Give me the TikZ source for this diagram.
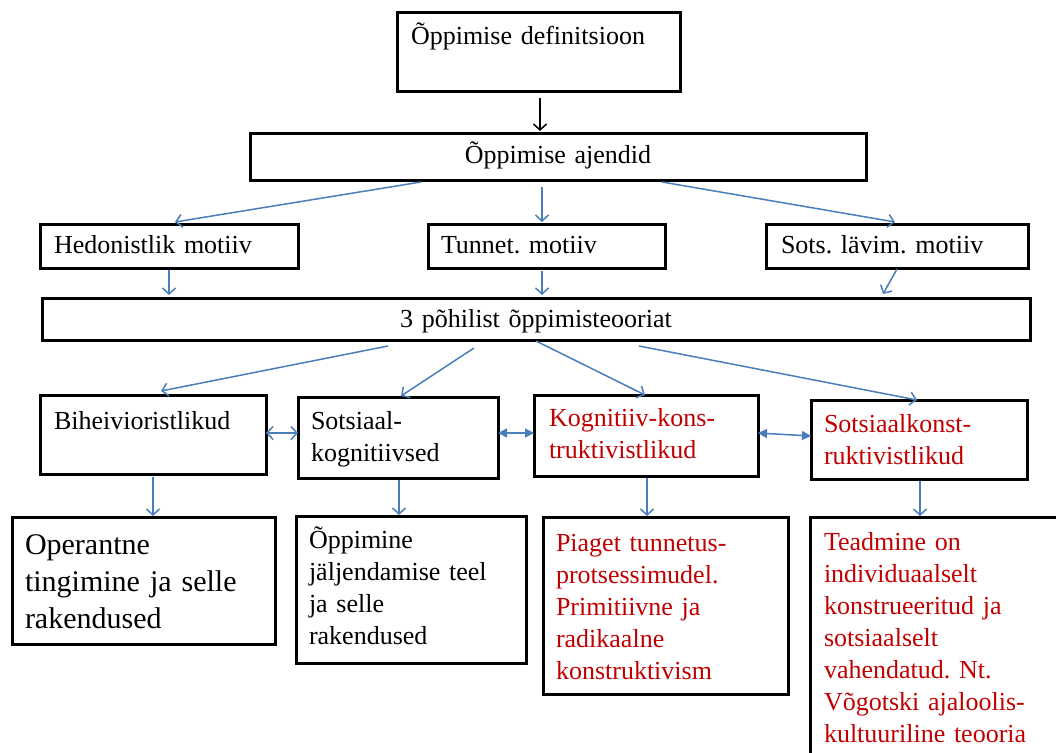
\documentclass[tikz,border=0pt]{standalone}
\usepackage{fontspec}
\setmainfont{Liberation Serif}
\usetikzlibrary{arrows.meta,calc}
\definecolor{sinine}{RGB}{74,126,187}
\definecolor{punane}{RGB}{192,0,0}
\frenchspacing

\begin{document}
\begin{tikzpicture}[x=1pt,y=-1pt,font=\fontsize{26}{32}\selectfont,
    >={Straight Barb[length=6pt,width=13pt]},
    kast/.style={draw,line width=3pt,anchor=north west,outer sep=0pt,inner ysep=0pt,align=left},
    nool/.style={draw=sinine,line width=1.5pt,->},
    kahe/.style={draw=sinine,line width=1.5pt,{Triangle[length=9pt,width=9pt]}-{Triangle[length=9pt,width=9pt]}}]
  \useasboundingbox (0,0) rectangle (1056,752);
  \clip (0,0) rectangle (1056,752);

  \node[kast,text width=255pt,inner xsep=14pt,text height=32pt,text depth=46pt] (def) at (397,13) {Õppimise definitsioon};
  \node[kast,align=center,text width=596pt,inner xsep=10pt,text height=30pt,text depth=17pt] (ajendid) at (250,133) {Õppimise ajendid};
  \node[kast,text width=230pt,inner xsep=14pt,text height=29pt,text depth=15pt] (hedon) at (40,224) {Hedonistlik motiiv};
  \node[kast,text width=211pt,inner xsep=13pt,text height=29pt,text depth=15pt] (tunnet) at (428,224) {Tunnet. motiiv};
  \node[kast,text width=232pt,inner xsep=15pt,text height=29pt,text depth=15pt] (lavim) at (766,224) {Sots. lävim. motiiv};
  \node[kast,align=center,text width=968pt,inner xsep=10pt,text height=29pt,text depth=13pt] (teooriad) at (42,298) {3 põhilist õppimisteooriat};

  \node[kast,text width=198pt,inner xsep=14pt,text height=34pt,text depth=45pt] (bih) at (40,395) {Biheivioristlikud};
  \node[kast,text width=174pt,inner xsep=13pt,text height=32pt,text depth=49pt] (sotskog) at (298,397) {Sotsiaal-\\kognitiivsed};
  \node[kast,text=punane,text width=194pt,inner xsep=15pt,text height=31pt,text depth=50pt] (kogkon) at (534,395) {Kognitiiv-kons-\\truktivistlikud};
  \node[kast,text=punane,text width=190pt,inner xsep=13pt,text height=32pt,text depth=47pt] (sotskon) at (811,400) {Sotsiaalkonst-\\ruktivistlikud};

  \node[kast,font=\fontsize{30}{37}\selectfont,text width=237pt,inner xsep=13pt,text height=37pt,text depth=90pt] (oper) at (12,517) {Operantne\\tingimine ja selle\\rakendused};
  \node[kast,text width=204pt,inner xsep=13pt,text height=32pt,text depth=115pt] (jalj) at (296,516) {Õppimine\\jäljendamise teel\\ja selle\\rakendused};
  \node[kast,text=punane,text width=219pt,inner xsep=13pt,text height=34pt,text depth=143pt] (piaget) at (543,517) {Piaget tunnetus-\\protsessimudel.\\Primitiivne ja\\radikaalne\\konstruktivism};
  \node[kast,text=punane,text width=242pt,inner xsep=14pt,text height=33pt,text depth=300pt] (teadm) at (810,517) {Teadmine on\\individuaalselt\\konstrueeritud ja\\sotsiaalselt\\vahendatud. Nt.\\Võgotski ajaloolis-\\kultuuriline teooria};

  \draw[line width=1.5pt,->] ($(def.south west)+(143,7)$) -- ($(ajendid.north west)+(290,-2)$);
  \foreach \a/\ax/\ay/\b/\bx/\by in {ajendid/171/2/hedon/135/-2, ajendid/292/7/tunnet/114/-2,
      ajendid/412/2/lavim/129/-2, hedon/129/2/teooriad/127/-3, tunnet/114/3/teooriad/500/-3,
      lavim/131/1/teooriad/841/-4, teooriad/346/6/bih/121/-4, teooriad/432/8/sotskog/103/-1,
      teooriad/494/1/kogkon/111/0, teooriad/597/6/sotskon/106/0, bih/113/3/oper/141/-1,
      sotskog/101/2/jalj/103/-1, kogkon/113/2/piaget/104/-1, sotskon/109/2/teadm/110/-1}
    \draw[nool] ($(\a.south west)+(\ax,\ay)$) -- ($(\b.north west)+(\bx,\by)$);
  \draw[nool,<->] ($(bih.north east)+(0,38)$) -- ($(sotskog.north west)+(0,36)$);
  \draw[kahe] ($(sotskog.north east)+(0,36)$) -- ($(kogkon.north west)+(0,38)$);
  \draw[kahe] ($(kogkon.north east)+(0,38)$) -- ($(sotskon.north west)+(0,36)$);
\end{tikzpicture}
\end{document}
